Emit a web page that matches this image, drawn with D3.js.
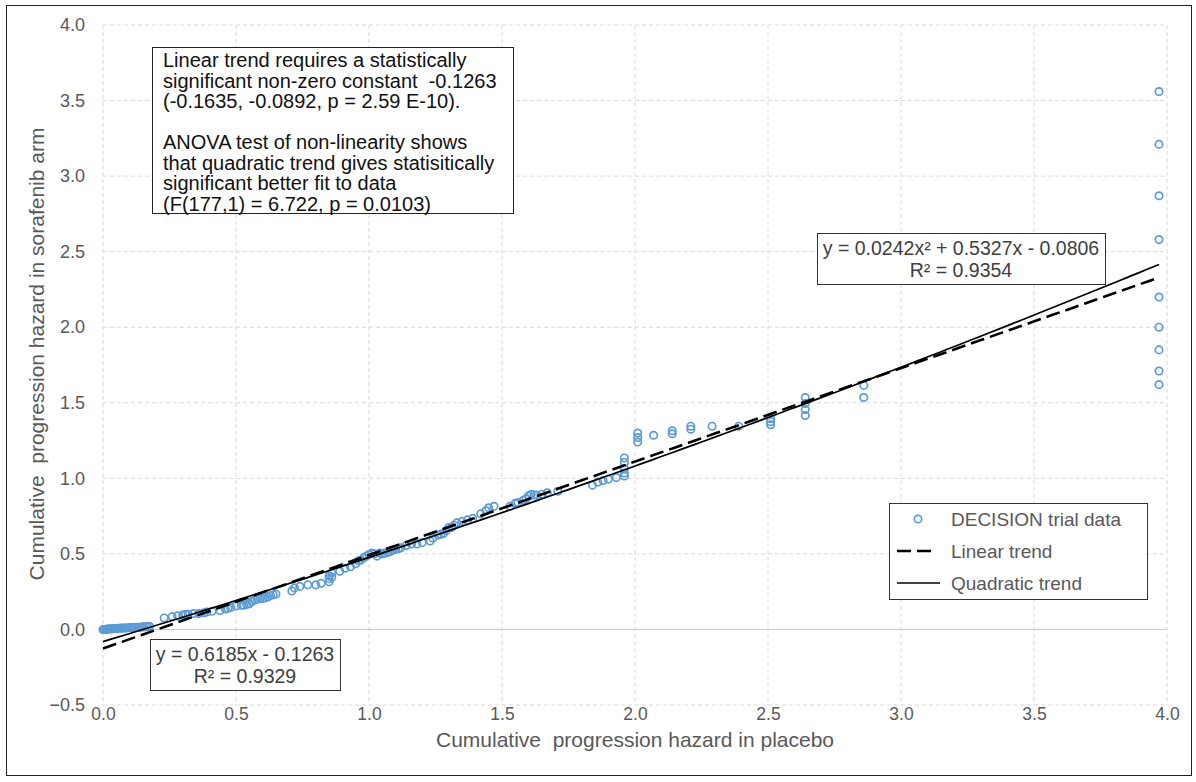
<!DOCTYPE html>
<html>
<head>
<meta charset="utf-8">
<script src="https://cdn.jsdelivr.net/npm/d3@7"></script>
<style>
  body { margin: 0; background: #fff; }
  svg { font-family: "Liberation Sans", Arial, sans-serif; }
</style>
</head>
<body>
<svg id="chart" width="1196" height="782"></svg>
<script>
// Data: cumulative hazard, placebo (x) vs sorafenib (y)
const placebo = [
  0.000, 0.005, 0.010, 0.015, 0.020, 0.025, 0.030, 0.035, 0.040, 0.045, 0.050, 0.055, 0.060, 0.065, 0.070,
  0.078, 0.085, 0.092, 0.100, 0.108, 0.115, 0.122, 0.130, 0.138, 0.145, 0.152, 0.160, 0.168, 0.175,
  0.23, 0.26, 0.28, 0.30, 0.31, 0.32, 0.34, 0.36, 0.38, 0.39, 0.41, 0.44, 0.46, 0.47, 0.48,
  0.50, 0.52, 0.53, 0.54, 0.55, 0.56, 0.57, 0.58, 0.59, 0.60, 0.61, 0.62, 0.63, 0.64, 0.65,
  0.71, 0.72, 0.74, 0.77, 0.80, 0.82, 0.85, 0.85, 0.85, 0.86, 0.86, 0.89, 0.91, 0.93, 0.95,
  0.96, 0.97, 0.98, 0.99, 1.00, 1.01, 1.02, 1.03, 1.04, 1.05, 1.06, 1.07, 1.08, 1.09, 1.10,
  1.11, 1.12, 1.14, 1.16, 1.18, 1.20, 1.23, 1.24, 1.26, 1.27, 1.28, 1.29, 1.30, 1.31, 1.32,
  1.33, 1.35, 1.37, 1.39, 1.42, 1.44, 1.45, 1.47, 1.53, 1.55, 1.56, 1.58, 1.59, 1.60, 1.61,
  1.62, 1.63, 1.65, 1.67, 1.71, 1.84, 1.86, 1.88, 1.90, 1.93, 1.96, 1.96, 1.96, 1.96, 1.96,
  2.01, 2.01, 2.01, 2.07, 2.14, 2.14, 2.21, 2.21, 2.29, 2.39, 2.51, 2.51, 2.51,
  2.64, 2.64, 2.64, 2.64, 2.86, 2.86,
  3.97, 3.97, 3.97, 3.97, 3.97, 3.97, 3.97, 3.97, 3.97
];
const sorafenib = [
  0.000, 0.000, 0.000, 0.002, 0.003, 0.003, 0.004, 0.005, 0.005, 0.006, 0.006, 0.007, 0.008, 0.008, 0.009,
  0.010, 0.010, 0.011, 0.012, 0.012, 0.013, 0.014, 0.015, 0.015, 0.016, 0.017, 0.018, 0.019, 0.020,
  0.076, 0.085, 0.090, 0.095, 0.100, 0.100, 0.105, 0.105, 0.110, 0.115, 0.120, 0.125, 0.135, 0.140, 0.145,
  0.155, 0.160, 0.160, 0.165, 0.170, 0.185, 0.195, 0.200, 0.205, 0.205, 0.210, 0.215, 0.225, 0.230, 0.235,
  0.255, 0.275, 0.285, 0.295, 0.295, 0.305, 0.315, 0.335, 0.355, 0.345, 0.375, 0.385, 0.405, 0.415, 0.435,
  0.455, 0.460, 0.475, 0.485, 0.495, 0.505, 0.500, 0.485, 0.505, 0.500, 0.505, 0.510, 0.515, 0.525, 0.530,
  0.535, 0.540, 0.555, 0.565, 0.565, 0.575, 0.585, 0.605, 0.625, 0.630, 0.635, 0.655, 0.675, 0.675, 0.690,
  0.705, 0.715, 0.725, 0.735, 0.765, 0.785, 0.805, 0.815, 0.815, 0.835, 0.840, 0.855, 0.865, 0.885, 0.895,
  0.890, 0.890, 0.895, 0.905, 0.915, 0.955, 0.975, 0.985, 0.995, 1.005, 1.015, 1.035, 1.065, 1.105, 1.135,
  1.240, 1.270, 1.300, 1.285, 1.295, 1.315, 1.325, 1.345, 1.345, 1.345, 1.355, 1.375, 1.395,
  1.415, 1.455, 1.495, 1.535, 1.535, 1.615,
  1.62, 1.71, 1.85, 2.00, 2.20, 2.58, 2.87, 3.21, 3.56
];

const xTicks = [0, 0.5, 1.0, 1.5, 2.0, 2.5, 3.0, 3.5, 4.0];
const yTicks = [-0.5, 0, 0.5, 1.0, 1.5, 2.0, 2.5, 3.0, 3.5, 4.0];

// trend line coefficients as printed on the chart
const linearCoef = [0.6185, -0.1263];
const quadCoef = [0.0242, 0.5327, -0.0806];
const trendRange = [0, 3.97];

const noteLines = [
  "Linear trend requires a statistically",
  "significant non-zero constant  -0.1263",
  "(-0.1635, -0.0892, p = 2.59 E-10).",
  "",
  "ANOVA test of non-linearity shows",
  "that quadratic trend gives statisitically",
  "significant better fit to data",
  "(F(177,1) = 6.722, p = 0.0103)"
];
const legendLabels = ["DECISION trial data", "Linear trend", "Quadratic trend"];

const svg = d3.select("#chart");
const plotL = 103, plotR = 1167, plotT = 25, plotB = 705;

const x = d3.scaleLinear().domain([0, 4]).range([plotL, plotR]);
const y = d3.scaleLinear().domain([-0.5, 4]).range([plotB, plotT]);

const grey = "#595959";
const blue = "#5b9bd5";

// outer frame
svg.append("rect")
  .attr("x", 6.5).attr("y", 5.5)
  .attr("width", 1185).attr("height", 770)
  .attr("fill", "none").attr("stroke", "#222").attr("stroke-width", 1);

// grid
svg.append("g").selectAll("line")
  .data(xTicks)
  .enter().append("line")
  .attr("x1", d => x(d)).attr("x2", d => x(d))
  .attr("y1", plotT).attr("y2", plotB)
  .attr("stroke", "#d9d9d9").attr("stroke-dasharray", "4,3");

svg.append("g").selectAll("line")
  .data(yTicks)
  .enter().append("line")
  .attr("x1", plotL).attr("x2", plotR)
  .attr("y1", d => y(d)).attr("y2", d => y(d))
  .attr("stroke", d => d === 0 ? "#c8c8c8" : "#d9d9d9")
  .attr("stroke-dasharray", d => d === 0 ? null : "4,3");

// axes (labels only, like the original)
const xAxis = svg.append("g")
  .attr("transform", `translate(0,${plotB})`)
  .call(d3.axisBottom(x).tickValues(xTicks).tickFormat(d3.format(".1f")).tickSize(0));
xAxis.select(".domain").remove();
xAxis.selectAll("text")
  .attr("fill", grey).attr("font-size", 17.5)
  .attr("font-family", "Liberation Sans, Arial, sans-serif");

const yAxis = svg.append("g")
  .attr("transform", `translate(${plotL - 15},0)`)
  .call(d3.axisLeft(y).tickValues(yTicks).tickFormat(d3.format(".1f")).tickSize(0));
yAxis.select(".domain").remove();
yAxis.selectAll("text")
  .attr("fill", grey).attr("font-size", 18)
  .attr("font-family", "Liberation Sans, Arial, sans-serif");

// axis titles
svg.append("text")
  .attr("x", (plotL + plotR) / 2).attr("y", 747)
  .attr("text-anchor", "middle")
  .attr("fill", grey).attr("font-size", 21)
  .style("white-space", "pre")
  .text("Cumulative  progression hazard in placebo");

svg.append("text")
  .attr("transform", "translate(44,354) rotate(-90)")
  .attr("text-anchor", "middle")
  .attr("fill", grey).attr("font-size", 21)
  .style("white-space", "pre")
  .text("Cumulative  progression hazard in sorafenib arm");

// data points
const points = placebo.map((p, i) => ({ x: p, y: sorafenib[i] }));
svg.append("g").selectAll("circle")
  .data(points)
  .enter().append("circle")
  .attr("cx", d => x(d.x))
  .attr("cy", d => y(d.y))
  .attr("r", 3.7)
  .attr("fill", "none")
  .attr("stroke", blue)
  .attr("stroke-width", 1.7);

// trend lines
const steps = d3.range(0, 101).map(i => trendRange[0] + (trendRange[1] - trendRange[0]) * i / 100);
const lin = v => linearCoef[0] * v + linearCoef[1];
const quad = v => quadCoef[0] * v * v + quadCoef[1] * v + quadCoef[2];
const line = d3.line().x(d => x(d[0])).y(d => y(d[1]));

svg.append("path")
  .datum(steps.map(v => [v, lin(v)]))
  .attr("d", line)
  .attr("fill", "none").attr("stroke", "#000")
  .attr("stroke-width", 2.6).attr("stroke-dasharray", "14,6");

svg.append("path")
  .datum(steps.map(v => [v, quad(v)]))
  .attr("d", line)
  .attr("fill", "none").attr("stroke", "#000")
  .attr("stroke-width", 1.7);

// note box, top left
const note = svg.append("g");
note.append("rect")
  .attr("x", 152.5).attr("y", 47.5).attr("width", 361).attr("height", 166)
  .attr("fill", "#fff").attr("stroke", "#222");
note.selectAll("text")
  .data(noteLines)
  .enter().append("text")
  .attr("x", 163)
  .attr("y", (d, i) => 67 + i * 20.5)
  .attr("fill", "#111").attr("font-size", 20)
  .style("white-space", "pre")
  .text(d => d);

// equation boxes
function eqBox(bx, by, w, h, lines, base) {
  const g = svg.append("g");
  g.append("rect")
    .attr("x", bx + 0.5).attr("y", by + 0.5).attr("width", w).attr("height", h)
    .attr("fill", "#fff").attr("stroke", "#333");
  const t = g.append("text")
    .attr("text-anchor", "middle")
    .attr("fill", "#404040").attr("font-size", 19.5);
  lines.forEach((l, i) => {
    t.append("tspan")
      .attr("x", bx + w / 2)
      .attr("y", by + base + i * 21.5)
      .text(l);
  });
}
eqBox(817, 233, 288, 51, ["y = 0.0242x² + 0.5327x - 0.0806", "R² = 0.9354"], 22);
eqBox(150, 639, 190, 51, ["y = 0.6185x - 0.1263", "R² = 0.9329"], 22);

// legend
const lg = svg.append("g");
lg.append("rect")
  .attr("x", 889.5).attr("y", 503.5).attr("width", 258).attr("height", 96)
  .attr("fill", "#fff").attr("stroke", "#333");
const rows = [519, 551, 583];
lg.append("circle")
  .attr("cx", 918).attr("cy", rows[0]).attr("r", 3.7)
  .attr("fill", "none").attr("stroke", blue).attr("stroke-width", 1.7);
lg.append("line")
  .attr("x1", 897).attr("x2", 937).attr("y1", rows[1]).attr("y2", rows[1])
  .attr("stroke", "#000").attr("stroke-width", 2.6).attr("stroke-dasharray", "14,6");
lg.append("line")
  .attr("x1", 897).attr("x2", 940).attr("y1", rows[2]).attr("y2", rows[2])
  .attr("stroke", "#000").attr("stroke-width", 1.7);
lg.selectAll("text")
  .data(legendLabels)
  .enter().append("text")
  .attr("x", 951)
  .attr("y", (d, i) => rows[i] + 7)
  .attr("fill", grey).attr("font-size", 19)
  .text(d => d);
</script>
</body>
</html>
